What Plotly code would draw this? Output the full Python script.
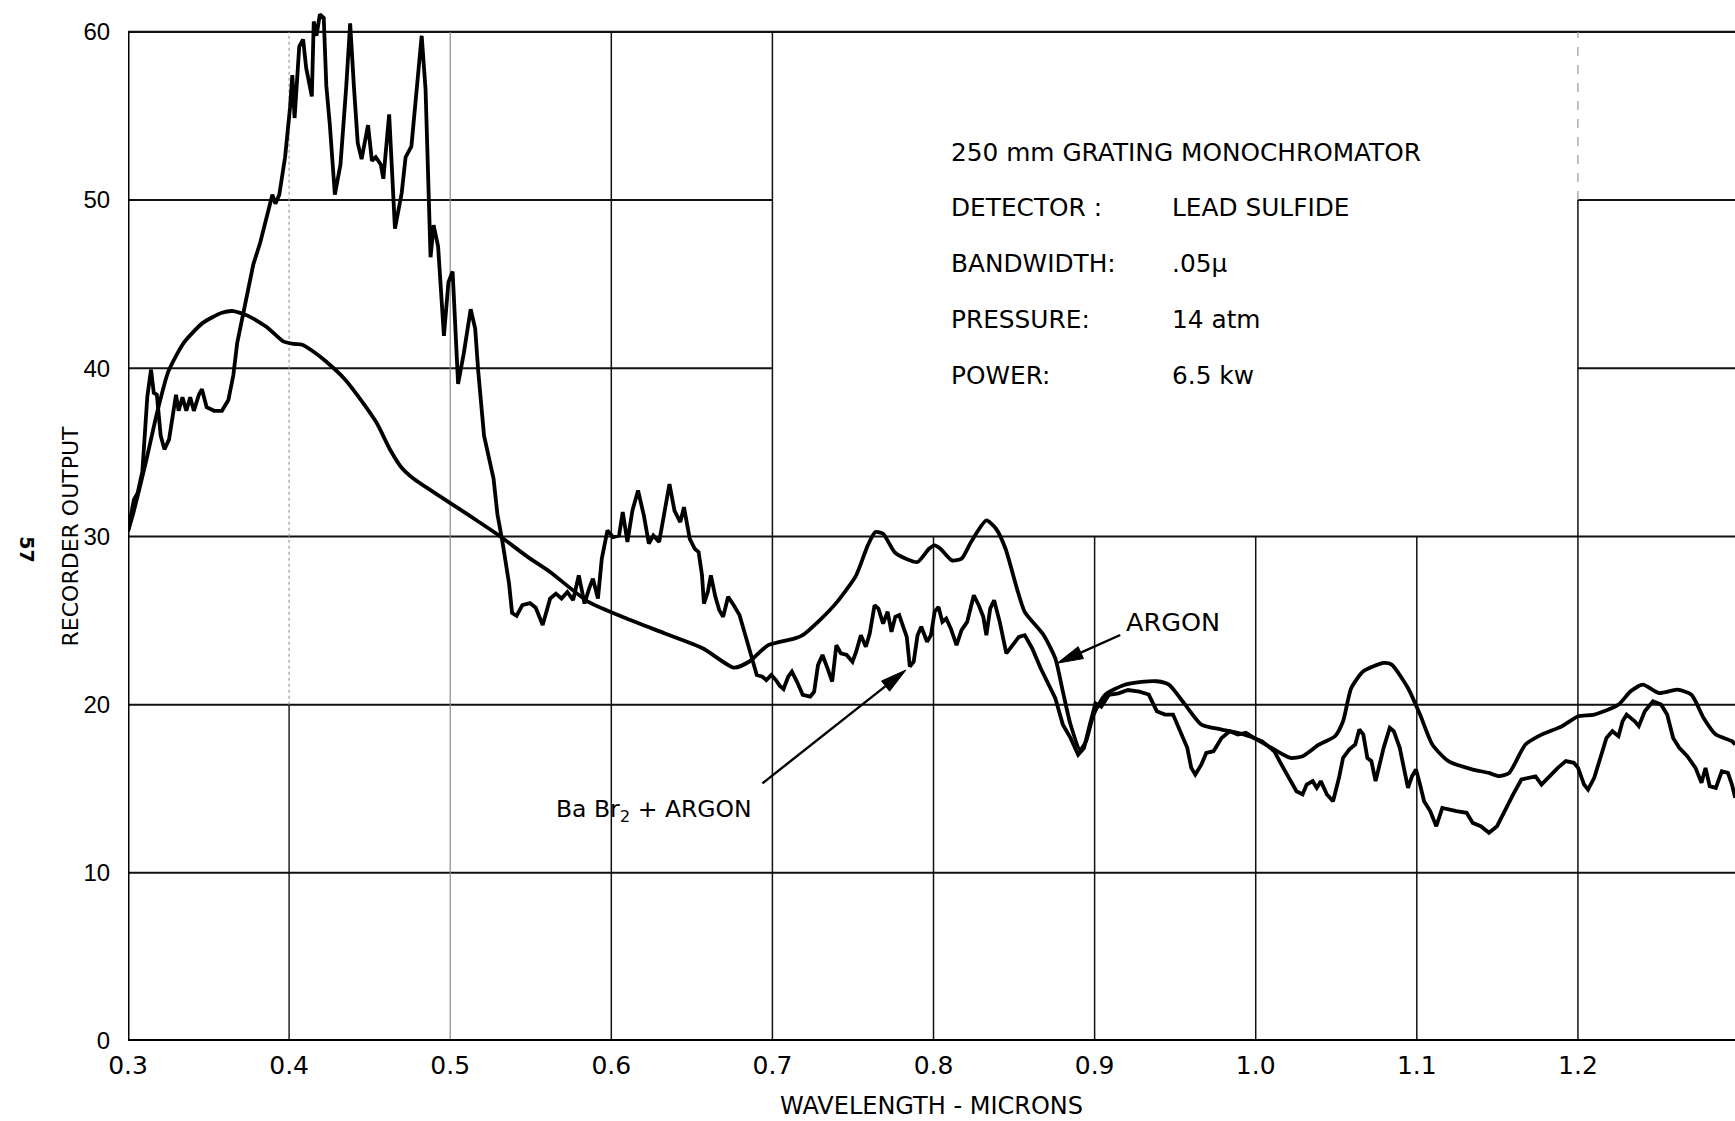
import math
import plotly.graph_objects as go

# Recorder trace with argon only (smooth curve)
argon_wavelength = [
    0.300, 0.3036, 0.3108, 0.3179, 0.3250, 0.3345, 0.3464, 0.3583, 0.3654, 0.3749,
    0.3868, 0.3963, 0.4030, 0.4082, 0.4150, 0.4224, 0.4343, 0.4462, 0.4545, 0.4628,
    0.4699, 0.4771, 0.4937, 0.5056, 0.5174, 0.5305, 0.5483, 0.5620, 0.5858, 0.6095,
    0.6333, 0.6570, 0.6760, 0.6855, 0.6974, 0.7140, 0.7188, 0.7283, 0.7402, 0.7520,
    0.7592, 0.7639, 0.7687, 0.7758, 0.7829, 0.7901, 0.7972, 0.8007, 0.8043, 0.8114,
    0.8174, 0.8233, 0.8328, 0.8388, 0.8447, 0.8518, 0.8566, 0.8684, 0.8756, 0.8803,
    0.8851, 0.8910, 0.8946, 0.8993, 0.9065, 0.9183, 0.9290, 0.9386, 0.9461, 0.9562,
    0.9663, 0.9788, 0.9889, 0.9989, 1.0115, 1.0216, 1.0291, 1.0392, 1.0492, 1.0542,
    1.0593, 1.0668, 1.0794, 1.0844, 1.0945, 1.1020, 1.1096, 1.1196, 1.1347, 1.1448,
    1.1510, 1.1573, 1.1674, 1.1774, 1.1900, 1.2001, 1.2101, 1.2252, 1.2327, 1.2403,
    1.2503, 1.2617, 1.2705, 1.2780, 1.2856, 1.2956, 1.2976,
]
argon_output = [
    30.3, 31.5, 34.3, 37.3, 39.8, 41.5, 42.7, 43.3, 43.4, 43.1,
    42.4, 41.6, 41.45, 41.4, 41.0, 40.45, 39.38, 37.9, 36.73, 35.14,
    34.08, 33.44, 32.38, 31.64, 30.89, 30.04, 28.77, 27.89, 26.11, 25.12,
    24.23, 23.34, 22.2, 22.55, 23.54, 23.94, 24.13, 24.92, 26.11, 27.69,
    29.47, 30.26, 30.16, 29.07, 28.68, 28.48, 29.27, 29.47, 29.27, 28.58,
    28.68, 29.67, 30.95, 30.46, 29.27, 26.90, 25.52, 24.13, 22.75, 20.77,
    18.80, 17.31, 17.81, 19.39, 20.58, 21.17, 21.35, 21.39, 21.19, 20.00,
    18.81, 18.52, 18.32, 18.02, 17.33, 16.83, 16.93, 17.62, 18.12, 19.01,
    20.99, 21.98, 22.48, 22.38, 20.99, 19.41, 17.63, 16.64, 16.14, 15.94,
    15.75, 15.94, 17.63, 18.22, 18.71, 19.31, 19.41, 20.00, 20.79, 21.19,
    20.69, 20.89, 20.59, 19.21, 18.22, 17.83, 17.63,
]

# Recorder trace with BaBr2 + argon (jagged curve)
babr_wavelength = [
    0.300, 0.3036, 0.3060, 0.3089, 0.3120, 0.3143, 0.3160, 0.3179, 0.3203, 0.3226,
    0.3255, 0.3279, 0.3298, 0.3314, 0.3338, 0.3362, 0.3386, 0.3409, 0.3440, 0.3459,
    0.3488, 0.3535, 0.3583, 0.3623, 0.3654, 0.3678, 0.3713, 0.3749, 0.3778, 0.3820,
    0.3868, 0.3896, 0.3915, 0.3939, 0.3975, 0.4006, 0.4020, 0.4034, 0.4063, 0.4087,
    0.4106, 0.4129, 0.4141, 0.4153, 0.4170, 0.4191, 0.4215, 0.4231, 0.4253, 0.4284,
    0.4319, 0.4355, 0.4379, 0.4402, 0.4426, 0.4450, 0.4490, 0.4514, 0.4538, 0.4569,
    0.4585, 0.4621, 0.4657, 0.4699, 0.4723, 0.4759, 0.4787, 0.4823, 0.4847, 0.4866,
    0.4878, 0.4897, 0.4925, 0.4961, 0.4989, 0.5015, 0.5049, 0.5084, 0.5127, 0.5155,
    0.5174, 0.5210, 0.5269, 0.5293, 0.5322, 0.5365, 0.5384, 0.5412, 0.5448, 0.5495,
    0.5531, 0.5574, 0.5620, 0.5656, 0.5691, 0.5727, 0.5763, 0.5798, 0.5834, 0.5862,
    0.5886, 0.5917, 0.5941, 0.5976, 0.6012, 0.6048, 0.6071, 0.6100, 0.6131, 0.6166,
    0.6202, 0.6233, 0.6261, 0.6297, 0.6333, 0.6361, 0.6392, 0.6428, 0.6451, 0.6487,
    0.6518, 0.6542, 0.6563, 0.6575, 0.6599, 0.6618, 0.6646, 0.6670, 0.6694, 0.6725,
    0.6760, 0.6796, 0.6832, 0.6867, 0.6903, 0.6938, 0.6962, 0.6993, 0.7022, 0.7045,
    0.7069, 0.7098, 0.7121, 0.7152, 0.7188, 0.7235, 0.7259, 0.7283, 0.7311, 0.7342,
    0.7371, 0.7397, 0.7425, 0.7461, 0.7497, 0.7520, 0.7549, 0.7580, 0.7604, 0.7634,
    0.7658, 0.7687, 0.7715, 0.7739, 0.7763, 0.7787, 0.7810, 0.7834, 0.7853, 0.7877,
    0.7901, 0.7924, 0.7960, 0.7984, 0.8007, 0.8031, 0.8055, 0.8079, 0.8107, 0.8143,
    0.8174, 0.8209, 0.8250, 0.8281, 0.8309, 0.8328, 0.8352, 0.8376, 0.8411, 0.8452,
    0.8483, 0.8530, 0.8566, 0.8613, 0.8665, 0.8708, 0.8756, 0.8803, 0.8851, 0.8898,
    0.8934, 0.8970, 0.9005, 0.9041, 0.9088, 0.9148, 0.9207, 0.9278, 0.9336, 0.9386,
    0.9436, 0.9487, 0.9537, 0.9575, 0.9600, 0.9625, 0.9663, 0.9693, 0.9738, 0.9788,
    0.9839, 0.9889, 0.9939, 0.9989, 1.0040, 1.0115, 1.0165, 1.0216, 1.0253, 1.0291,
    1.0316, 1.0354, 1.0379, 1.0404, 1.0442, 1.0480, 1.0517, 1.0542, 1.0580, 1.0618,
    1.0643, 1.0668, 1.0693, 1.0718, 1.0744, 1.0769, 1.0794, 1.0832, 1.0857, 1.0894,
    1.0920, 1.0945, 1.0970, 1.0995, 1.1020, 1.1045, 1.1083, 1.1121, 1.1158, 1.1196,
    1.1246, 1.1309, 1.1347, 1.1397, 1.1448, 1.1498, 1.1548, 1.1598, 1.1649, 1.1699,
    1.1737, 1.1774, 1.1812, 1.1875, 1.1925, 1.1975, 1.2001, 1.2038, 1.2063, 1.2101,
    1.2139, 1.2177, 1.2214, 1.2252, 1.2277, 1.2302, 1.2353, 1.2378, 1.2415, 1.2466,
    1.2516, 1.2554, 1.2591, 1.2629, 1.2679, 1.2730, 1.2767, 1.2792, 1.2818, 1.2856,
    1.2893, 1.2931, 1.2956, 1.2976,
]
babr_output = [
    30.3, 32.17, 32.59, 33.86, 38.32, 39.92, 38.54, 38.43, 35.99, 35.18,
    35.77, 37.47, 38.43, 37.47, 38.28, 37.47, 38.28, 37.47, 38.43, 38.75,
    37.69, 37.47, 37.47, 38.11, 39.60, 41.51, 43.20, 44.90, 46.18, 47.45,
    49.15, 50.32, 49.79, 50.32, 52.55, 55.52, 57.43, 54.88, 59.13, 59.55,
    57.86, 56.79, 56.16, 60.62, 59.77, 61.04, 60.83, 56.79, 54.46, 50.32,
    52.12, 56.79, 60.51, 56.79, 53.40, 52.44, 54.46, 52.34, 52.55, 52.12,
    51.27, 55.10, 48.30, 50.42, 52.55, 53.19, 56.16, 59.77, 56.58, 50.85,
    46.60, 48.51, 47.24, 41.93, 45.12, 45.75, 39.07, 40.87, 43.51, 42.36,
    39.81, 35.99, 33.44, 31.32, 29.81, 27.22, 25.45, 25.28, 25.92, 26.04,
    25.76, 24.74, 26.30, 26.60, 26.31, 26.70, 26.21, 27.69, 26.01, 26.90,
    27.49, 26.31, 28.68, 30.36, 29.96, 30.06, 31.45, 29.67, 31.54, 32.73,
    31.25, 29.57, 30.06, 29.67, 31.54, 33.12, 31.54, 30.85, 31.74, 29.86,
    29.27, 29.07, 27.69, 26.01, 26.70, 27.69, 26.41, 25.62, 25.22, 26.41,
    25.91, 25.32, 24.13, 22.95, 21.76, 21.66, 21.46, 21.76, 21.46, 21.13,
    20.93, 21.66, 21.96, 21.37, 20.58, 20.48, 20.77, 22.35, 22.95, 22.16,
    21.37, 23.54, 23.05, 22.95, 22.55, 23.15, 24.13, 23.44, 24.23, 25.91,
    25.71, 24.82, 25.52, 24.33, 25.22, 25.32, 24.73, 24.03, 22.26, 22.55,
    24.13, 24.63, 23.74, 24.13, 25.52, 25.81, 24.92, 25.12, 24.53, 23.54,
    24.43, 24.92, 26.50, 25.91, 25.22, 24.13, 25.71, 26.21, 24.92, 23.05,
    23.44, 24.03, 24.13, 23.34, 22.16, 21.37, 20.38, 18.80, 18.01, 17.02,
    17.41, 18.80, 20.08, 19.88, 20.58, 20.67, 20.87, 20.77, 20.60, 19.61,
    19.41, 19.41, 18.22, 17.43, 16.24, 15.84, 16.44, 17.13, 17.23, 18.02,
    18.42, 18.22, 18.32, 18.02, 17.82, 17.23, 16.34, 15.45, 14.85, 14.66,
    15.25, 15.45, 15.05, 15.45, 14.66, 14.26, 15.65, 16.83, 17.33, 17.63,
    18.52, 18.22, 16.83, 16.64, 15.45, 16.44, 17.43, 18.62, 18.42, 17.43,
    16.24, 15.05, 15.74, 16.14, 15.25, 14.26, 13.67, 12.77, 13.86, 13.76,
    13.67, 13.57, 12.97, 12.77, 12.38, 12.77, 13.76, 14.66, 15.55, 15.65,
    15.74, 15.25, 15.65, 16.24, 16.64, 16.54, 16.24, 15.25, 14.95, 15.65,
    16.83, 18.02, 18.42, 18.12, 19.01, 19.41, 19.01, 18.72, 19.61, 20.20,
    20.00, 19.41, 18.02, 17.43, 16.93, 16.24, 15.35, 16.24, 15.15, 15.05,
    16.04, 15.94, 15.25, 14.46,
]

x_ticks = [0.3, 0.4, 0.5, 0.6, 0.7, 0.8, 0.9, 1.0, 1.1, 1.2]
x_tick_labels = ["0.3", "0.4", "0.5", "0.6", "0.7", "0.8", "0.9", "1.0", "1.1", "1.2"]
y_ticks = [0, 10, 20, 30, 40, 50, 60]
y_tick_labels = ["0", "10", "20", "30", "40", "50", "60"]

info_title = "250 mm GRATING MONOCHROMATOR"
info_labels = ["DETECTOR :", "BANDWIDTH:", "PRESSURE:", "POWER:"]
info_values = ["LEAD SULFIDE", ".05\u03bc", "14 atm", "6.5 kw"]

WIDTH, HEIGHT = 1735, 1121
MARGIN = dict(l=128, r=0, t=5, b=80, pad=0)
X_MIN, X_MAX = 0.3, 1.2975
Y_MIN, Y_MAX = 0.0, 61.6
TEXT_FONT = "DejaVu Sans"
CURVE_WIDTH = 3.8

# pixels per data unit, used to shape the arrowheads
PX_PER_X = (WIDTH - MARGIN["l"] - MARGIN["r"]) / (X_MAX - X_MIN)
PX_PER_Y = (HEIGHT - MARGIN["t"] - MARGIN["b"]) / (Y_MAX - Y_MIN)

fig = go.Figure()

fig.add_trace(go.Scatter(
    x=argon_wavelength, y=argon_output, mode="lines",
    line=dict(color="black", width=CURVE_WIDTH, shape="spline", smoothing=0.6),
    hoverinfo="x+y", showlegend=False,
))
fig.add_trace(go.Scatter(
    x=babr_wavelength, y=babr_output, mode="lines",
    line=dict(color="black", width=CURVE_WIDTH),
    hoverinfo="x+y", showlegend=False,
))

shapes = []


def seg(x0, y0, x1, y1, width=1.5, color="#111111", dash="solid", layer="below"):
    shapes.append(dict(
        type="line", xref="x", yref="y", x0=x0, y0=y0, x1=x1, y1=y1,
        line=dict(color=color, width=width, dash=dash), layer=layer,
    ))


def pointer(x_tail, y_tail, x_tip, y_tip, head_len=26.0, head_half=6.5):
    """Leader line with a filled arrowhead whose point sits at (x_tip, y_tip)."""
    dx = (x_tip - x_tail) * PX_PER_X
    dy = (y_tip - y_tail) * PX_PER_Y
    length = math.hypot(dx, dy)
    ux, uy = dx / length, dy / length
    bx = x_tip - ux * head_len / PX_PER_X
    by = y_tip - uy * head_len / PX_PER_Y
    lx, ly = bx - uy * head_half / PX_PER_X, by + ux * head_half / PX_PER_Y
    rx, ry = bx + uy * head_half / PX_PER_X, by - ux * head_half / PX_PER_Y
    seg(x_tail, y_tail, bx, by, width=2.4, color="black", layer="above")
    shapes.append(dict(
        type="path", xref="x", yref="y", layer="above",
        path=f"M {x_tip},{y_tip} L {lx},{ly} L {rx},{ry} Z",
        fillcolor="black", line=dict(color="black", width=1),
    ))


# horizontal rulings; the 40 and 50 lines break around the info panel
for yv in (10, 20, 30):
    seg(X_MIN, yv, X_MAX, yv, width=2.0)
for yv in (40, 50):
    seg(X_MIN, yv, 0.7, yv, width=2.0)
    seg(1.2, yv, X_MAX, yv, width=2.0)
seg(X_MIN, 60, X_MAX, 60, width=2.4)

# vertical rulings
seg(0.4, 0, 0.4, 20, width=1.4)
seg(0.4, 20, 0.4, 60, width=1.2, color="#9a9a9a", dash="dot")
seg(0.5, 0, 0.5, 60, width=1.2, color="#8a8a8a")
seg(0.6, 0, 0.6, 60, width=1.5)
seg(0.7, 0, 0.7, 60, width=1.5)
for xv in (0.8, 0.9, 1.0, 1.1):
    seg(xv, 0, xv, 30, width=1.5)
seg(1.2, 0, 1.2, 50, width=1.5)
seg(1.2, 50, 1.2, 60, width=1.2, color="#9a9a9a", dash="dash")

# frame: left and bottom axis lines
seg(X_MIN, 0, X_MIN, 60, width=3.0, color="black")
seg(X_MIN, 0, X_MAX, 0, width=4.0, color="black")

# leader arrows from the curve labels
pointer(0.9159, 24.14, 0.8767, 22.46)
pointer(0.6938, 15.32, 0.7829, 22.06)

annotations = []

# instrument settings panel
panel_font = dict(family=TEXT_FONT, size=24.8, color="black")
annotations.append(dict(
    x=0.8096, y=52.85, xref="x", yref="y", text=info_title, showarrow=False,
    xanchor="left", yanchor="middle", font=panel_font,
))
for i, (lab, val) in enumerate(zip(info_labels, info_values)):
    row_y = 49.58 - i * 3.33
    annotations.append(dict(
        x=0.8096, y=row_y, xref="x", yref="y", text=lab, showarrow=False,
        xanchor="left", yanchor="middle", font=panel_font,
    ))
    annotations.append(dict(
        x=0.9468, y=row_y, xref="x", yref="y", text=val, showarrow=False,
        xanchor="left", yanchor="middle", font=panel_font,
    ))

# curve labels
annotations.append(dict(
    x=0.918, y=24.91, xref="x", yref="y", text="ARGON", showarrow=False,
    xanchor="left", yanchor="middle", font=dict(family=TEXT_FONT, size=25.5, color="black"),
))
annotations.append(dict(
    x=0.5643, y=13.73, xref="x", yref="y", text="Ba Br<sub>2</sub> + ARGON", showarrow=False,
    xanchor="left", yanchor="middle", font=dict(family=TEXT_FONT, size=23.5, color="black"),
))

# axis titles and page number
annotations.append(dict(
    x=-0.0361, y=30.0, xref="paper", yref="y", text="RECORDER OUTPUT", showarrow=False,
    textangle=-90, xanchor="center", yanchor="middle",
    font=dict(family=TEXT_FONT, size=22, color="black"),
))
annotations.append(dict(
    x=-0.063, y=29.25, xref="paper", yref="y", text="57", showarrow=False,
    textangle=90, xanchor="center", yanchor="middle",
    font=dict(family=TEXT_FONT, size=19, color="black", weight="bold"),
))
annotations.append(dict(
    x=0.799, y=-0.0627, xref="x", yref="paper", text="WAVELENGTH - MICRONS", showarrow=False,
    xanchor="center", yanchor="middle",
    font=dict(family=TEXT_FONT, size=24, color="black"),
))

fig.update_layout(
    width=WIDTH, height=HEIGHT, autosize=False,
    margin=MARGIN,
    paper_bgcolor="white", plot_bgcolor="white",
    showlegend=False,
    font=dict(family=TEXT_FONT, size=22, color="black"),
    shapes=shapes, annotations=annotations,
    xaxis=dict(
        range=[X_MIN, X_MAX], showgrid=False, zeroline=False, showline=False,
        tickmode="array", tickvals=x_ticks, ticktext=x_tick_labels,
        ticks="outside", ticklen=2, tickcolor="rgba(0,0,0,0)",
        tickfont=dict(family=TEXT_FONT, size=25, color="black"),
    ),
    yaxis=dict(
        range=[Y_MIN, Y_MAX], showgrid=False, zeroline=False, showline=False,
        tickmode="array", tickvals=y_ticks, ticktext=y_tick_labels,
        ticks="outside", ticklen=12, tickcolor="rgba(0,0,0,0)",
        tickfont=dict(family="Liberation Sans", size=24, color="black"),
    ),
)

fig.write_html("out.html", post_script="document.body.style.margin='0';")
